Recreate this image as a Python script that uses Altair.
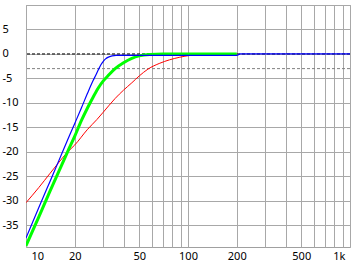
import altair as alt
import pandas as pd

# Frequencies (Hz) and levels (dB)
red_f = [10, 12, 14, 16, 18, 20, 24, 27.4, 30, 35.5, 40, 45, 50, 56.6, 67, 77, 89, 103, 120, 150, 200]
red_db = [-30.4, -27.3, -24.5, -22.1, -20.1, -18.6, -15.4, -13.4, -11.9, -9.1, -7.4, -5.9, -4.5, -3.1, -1.9, -1.2, -0.67, -0.3, -0.15, -0.05, 0.0]

green_f = [10, 12, 14, 16, 18, 20, 22, 24, 26, 28, 30, 32, 35.5, 40, 45, 50, 58, 70, 100, 200]
green_db = [-39.2, -33.3, -28.2, -23.9, -20.1, -16.8, -13.6, -11.0, -8.8, -6.9, -5.5, -4.5, -3.0, -1.8, -0.9, -0.4, -0.1, 0.0, 0.0, 0.0]

blue_f = [10, 12, 14, 16, 18, 20, 22, 24, 26, 27, 28, 29, 30, 31, 32, 34, 36, 40, 60, 100, 200, 210, 500, 1000]
blue_db = [-37.6, -31.4, -26.2, -21.7, -17.7, -14.2, -11.0, -8.0, -5.4, -4.3, -3.2, -2.2, -1.5, -1.0, -0.7, -0.4, -0.3, -0.3, -0.3, -0.3, -0.3, 0.0, 0.0, 0.0]

ref_levels = [0, -3]
ref_colors = ["#000000", "#808080"]

x_grid = [10, 20, 30, 40, 50, 60, 70, 80, 90, 100, 200, 300, 400, 500, 600, 700, 800, 900, 1000]
x_labeled = [10, 20, 50, 100, 200, 500]
y_grid = [-35, -30, -25, -20, -15, -10, -5, 0, 5, 10]

FONT = "Noto Sans"

xscale = alt.Scale(type="log", domain=[10, 1000], nice=False)
yscale = alt.Scale(domain=[-39.45, 10], nice=False, zero=False)

xaxis = alt.Axis(
    values=x_grid, title=None, grid=True, ticks=False, domain=False,
    labelExpr="datum.value == 1000 ? '1k' : (indexof(%s, datum.value) >= 0 ? '' + datum.value : '')" % str(x_labeled),
    labelFlush=True, labelFlushOffset=-5, labelOverlap=False, labelPadding=3,
)
yaxis = alt.Axis(
    values=y_grid, title=None, grid=True, ticks=False, domain=False,
    labelExpr="datum.value == 10 ? '' : '' + datum.value",
    labelAlign="left", labelPadding=24, labelBaseline="middle", labelOverlap=False,
)

def series_df(f, db):
    return pd.DataFrame({"f": f, "db": db})

def line_layer(f, db, color, width):
    return alt.Chart(series_df(f, db)).mark_line(
        color=color, strokeWidth=width, interpolate="monotone", clip=True
    ).encode(
        x=alt.X("f:Q", scale=xscale, axis=xaxis),
        y=alt.Y("db:Q", scale=yscale, axis=yaxis),
    )

rule_layers = []
for lvl, col in zip(ref_levels, ref_colors):
    rule_layers.append(
        alt.Chart(pd.DataFrame({"db": [lvl]})).mark_rule(
            color=col, strokeDash=[3, 2], strokeWidth=1
        ).encode(y=alt.Y("db:Q", scale=yscale, axis=yaxis))
    )

chart = alt.layer(
    *rule_layers,
    line_layer(red_f, red_db, "#ff0000", 1),
    line_layer(green_f, green_db, "#00ff00", 3),
    line_layer(blue_f, blue_db, "#0000ff", 1.2),
).properties(
    width=324, height=242,
    autosize=alt.AutoSizeParams(type="none"),
    padding={"left": 26, "top": 5, "right": 6, "bottom": 19},
).configure_view(
    stroke="#a0a0a0", strokeWidth=1
).configure_axis(
    gridColor="#a8a8a8", gridOpacity=1, gridWidth=1,
    labelFont=FONT, labelFontSize=11, labelColor="#000000",
)

chart.save("out.html", embed_options={"renderer": "svg", "actions": False})
